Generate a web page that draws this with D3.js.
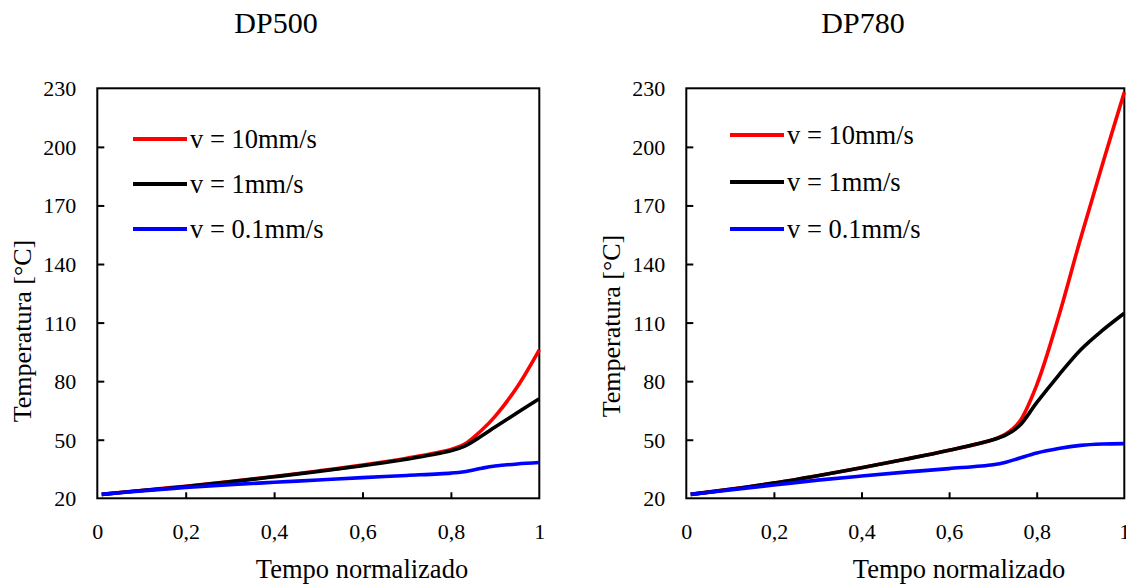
<!DOCTYPE html>
<html>
<head>
<meta charset="utf-8">
<script src="https://cdn.jsdelivr.net/npm/d3@7"></script>
<style>
  html, body { margin: 0; padding: 0; background: #fff; }
  svg { display: block; }
</style>
</head>
<body>
<svg id="chart" width="1126" height="585"></svg>
<script>
// Normalized time samples and temperatures (°C) for each feed speed
const seriesNames = ["v = 10mm/s", "v = 1mm/s", "v = 0.1mm/s"];
const seriesColors = ["#ff0000", "#000000", "#0000ff"];

const dp500Time = [0.01, 0.1, 0.2, 0.3, 0.4, 0.5, 0.6, 0.7, 0.8, 0.83, 0.87, 0.9, 0.95, 1.0];
const dp500V10  = [22, 24, 26.2, 28.6, 31.2, 34, 37, 40.5, 45, 47.6, 55, 62, 77, 96];
const dp500V1   = [22, 24, 26, 28.4, 31, 33.7, 36.7, 40, 44.3, 46.6, 52, 56.5, 63.8, 71];
const dp500V01  = [22, 23.8, 25.5, 27, 28.2, 29.4, 30.6, 31.7, 32.9, 33.6, 35.4, 36.5, 37.6, 38.3];

const dp780Time = [0.01, 0.1, 0.2, 0.3, 0.4, 0.5, 0.6, 0.7, 0.73, 0.76, 0.8, 0.85, 0.9, 0.95, 1.0];
const dp780V10  = [22, 24.6, 27.8, 31.6, 35.7, 40, 44.6, 50, 53, 59, 78, 113, 153, 191, 228];
const dp780V1   = [22, 24.6, 27.8, 31.6, 35.7, 40, 44.6, 50, 52.5, 57, 69, 83, 96, 106, 114.8];
const dp780V01  = [22, 24.3, 26.8, 29.3, 31.4, 33.4, 35.2, 37.2, 38.5, 40.5, 43.2, 45.5, 47.1, 47.8, 48];

const xTicks = [0, 0.2, 0.4, 0.6, 0.8, 1];
const yTicks = [20, 50, 80, 110, 140, 170, 200, 230];
const xTitle = "Tempo normalizado";
const yTitle = "Temperatura [°C]";

const FONT = "'Liberation Serif', 'Times New Roman', Times, serif";
const svg = d3.select("#chart");

function drawPanel(opts) {
  const { title, time, values, left, right, top, bottom, titleX, xTitleX, yTitleY, legendX, legendY } = opts;

  const x = d3.scaleLinear().domain([0, 1]).range([left, right]);
  const y = d3.scaleLinear().domain([20, 230]).range([bottom, top]);
  const g = svg.append("g");

  // title
  g.append("text")
    .attr("x", titleX).attr("y", 33)
    .attr("text-anchor", "middle")
    .style("font-family", FONT)
    .style("font-size", "30px")
    .text(title);

  // x axis (inward ticks)
  const xAxis = d3.axisBottom(x).tickValues(xTicks).tickSize(-6).tickPadding(14)
    .tickFormat(d => d === 0 || d === 1 ? String(d) : d3.format(".1f")(d).replace(".", ","));
  const gx = g.append("g").attr("transform", `translate(0,${bottom})`).call(xAxis)
    .attr("font-family", FONT);
  gx.select(".domain").remove();
  gx.selectAll(".tick line").attr("stroke", "#000").attr("stroke-width", 2)
    .filter(d => d === 0 || d === 1).remove();
  gx.selectAll(".tick text")
    .style("font-family", FONT).style("font-size", "22px").attr("fill", "#000")
    .attr("dy", "1.2em");

  // y axis (inward ticks)
  const yAxis = d3.axisLeft(y).tickValues(yTicks).tickSize(-7).tickPadding(21);
  const gy = g.append("g").attr("transform", `translate(${left},0)`).call(yAxis)
    .attr("font-family", FONT);
  gy.select(".domain").remove();
  gy.selectAll(".tick line").attr("stroke", "#000").attr("stroke-width", 2)
    .filter(d => d === 20 || d === 230).remove();
  gy.selectAll(".tick text")
    .style("font-family", FONT).style("font-size", "22px").attr("fill", "#000")
    .attr("dy", "0.34em");

  // frame
  g.append("rect")
    .attr("x", left).attr("y", top)
    .attr("width", right - left).attr("height", bottom - top)
    .attr("fill", "none").attr("stroke", "#000").attr("stroke-width", 2);

  // axis titles
  g.append("text")
    .attr("x", xTitleX).attr("y", 578)
    .attr("text-anchor", "middle")
    .style("font-family", FONT)
    .style("font-size", "26.5px")
    .text(xTitle);
  g.append("text")
    .attr("transform", `translate(${left - 66},${yTitleY}) rotate(-90)`)
    .attr("text-anchor", "middle")
    .style("font-family", FONT)
    .style("font-size", "26px")
    .text(yTitle);

  // curves
  const line = d3.line()
    .x(d => x(d[0]))
    .y(d => y(d[1]))
    .curve(d3.curveCatmullRom.alpha(0.5));

  values.forEach((vals, i) => {
    const pts = time.map((t, k) => [t, vals[k]]);
    g.append("path")
      .datum(pts)
      .attr("d", line)
      .attr("fill", "none")
      .attr("stroke", seriesColors[i])
      .attr("stroke-width", 3.6)
      .attr("stroke-linejoin", "round");
  });

  // legend
  seriesNames.forEach((name, i) => {
    const ly = legendY[i];
    g.append("line")
      .attr("x1", legendX).attr("x2", legendX + 54)
      .attr("y1", ly).attr("y2", ly)
      .attr("stroke", seriesColors[i]).attr("stroke-width", 4);
    g.append("text")
      .attr("x", legendX + 57).attr("y", ly + 9)
      .style("font-family", FONT)
      .style("font-size", "26.5px")
      .text(name);
  });
}

drawPanel({
  title: "DP500", time: dp500Time, values: [dp500V10, dp500V1, dp500V01],
  left: 97.3, right: 539.3, top: 88.3, bottom: 498.3,
  titleX: 276, xTitleX: 362, yTitleY: 331,
  legendX: 133, legendY: [139, 184, 229]
});

drawPanel({
  title: "DP780", time: dp780Time, values: [dp780V10, dp780V1, dp780V01],
  left: 686.3, right: 1124.3, top: 88.3, bottom: 498.3,
  titleX: 863, xTitleX: 959, yTitleY: 326,
  legendX: 730, legendY: [135, 182, 229]
});
</script>
</body>
</html>
